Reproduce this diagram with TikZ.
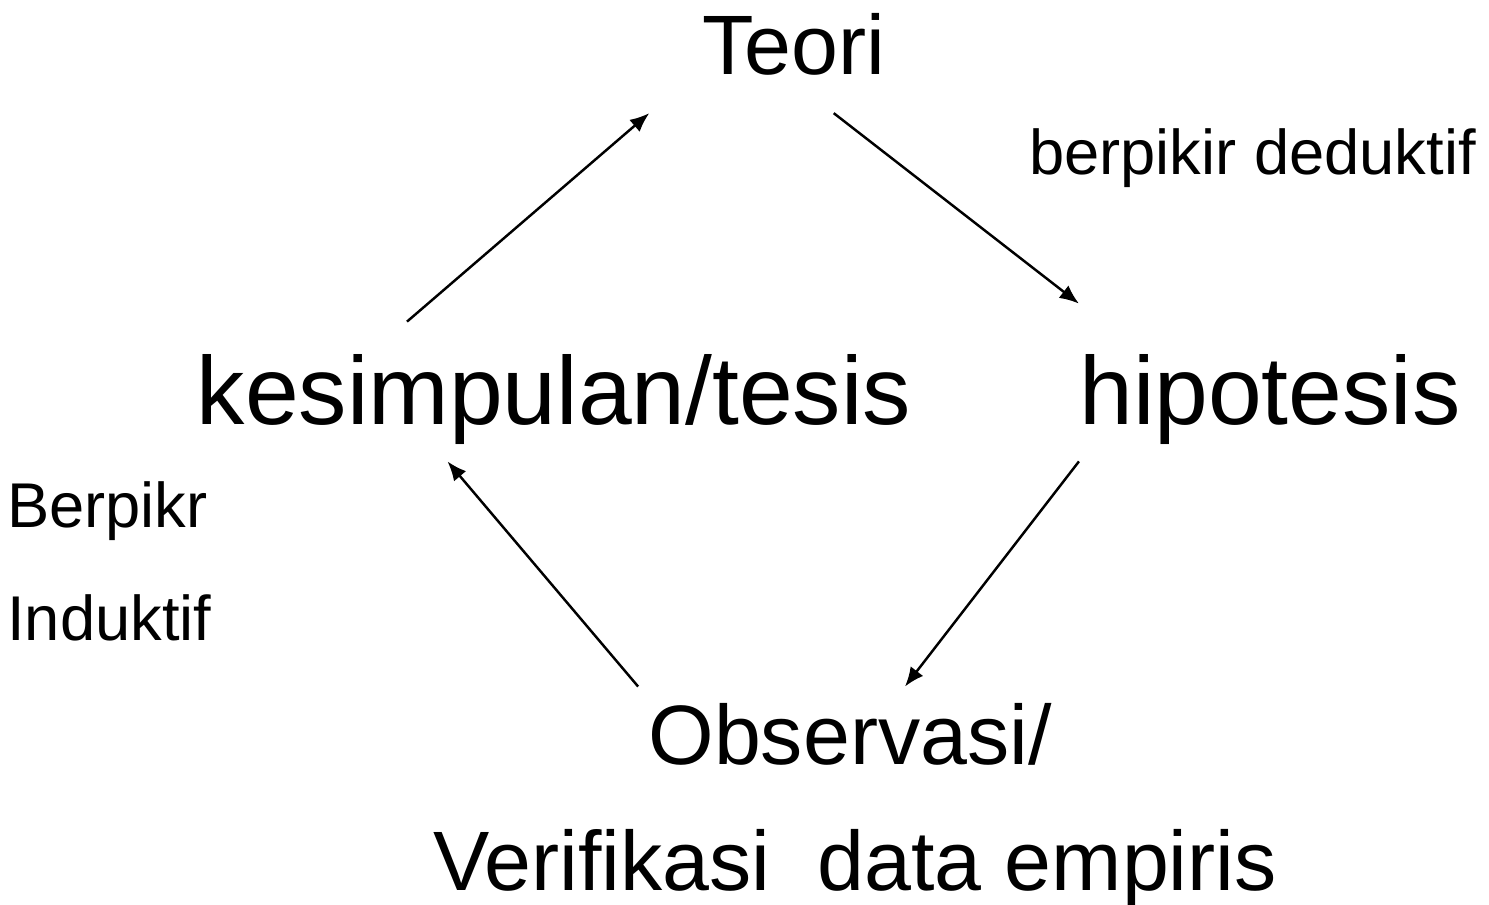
\documentclass[tikz,border=0pt]{standalone}
\usepackage{fontspec}
\setmainfont{Liberation Sans}
\usetikzlibrary{arrows.meta}

\tikzset{
  big/.style={inner sep=0pt, anchor=base, font=\fontsize{55}{60}\selectfont},
  mid/.style={inner sep=0pt, anchor=base, font=\fontsize{48}{54}\selectfont},
  note/.style={inner sep=0pt, anchor=base west, font=\fontsize{36}{40}\selectfont},
  flow/.style={-{Latex[length=11pt,width=9pt]}, line width=1.4pt}
}

\begin{document}
\begin{tikzpicture}[x=0.02cm, y=-0.02cm]
    \useasboundingbox (0,0) rectangle (1489,905);

    % the four stages of the cycle
    \node[mid] (teori) at (794,75) {Teori};
    \node[big] (kes) at (554,425) {kesimpulan/tesis};
    \node[big] (hip) at (1270,425) {hipotesis};
    \node[mid] (obs) at (850,765) {Observasi/};
    \node[mid] (ver) at (855,890) {Verifikasi\ \ data empiris};

    % side notes
    \node[note] (ded) at (1029,175) {berpikir deduktif};
    \node[note] (ber) at (7,528) {Berpikr};
    \node[note] (ind) at (7,641) {Induktif};

    % arrows round the cycle
    \draw[flow] ([shift={(-147,-33)}]kes.north) -- ([shift={(-53,37)}]teori.south west);
    \draw[flow] ([shift={(-52,37)}]teori.south east) -- ([shift={(0,-51)}]hip.north west);
    \draw[flow] ([shift={(0,16)}]hip.south west) -- ([shift={(55,-17)}]obs.north);
    \draw[flow] ([shift={(-10,-17)}]obs.north west) -- ([shift={(251,16)}]kes.south west);
\end{tikzpicture}
\end{document}
